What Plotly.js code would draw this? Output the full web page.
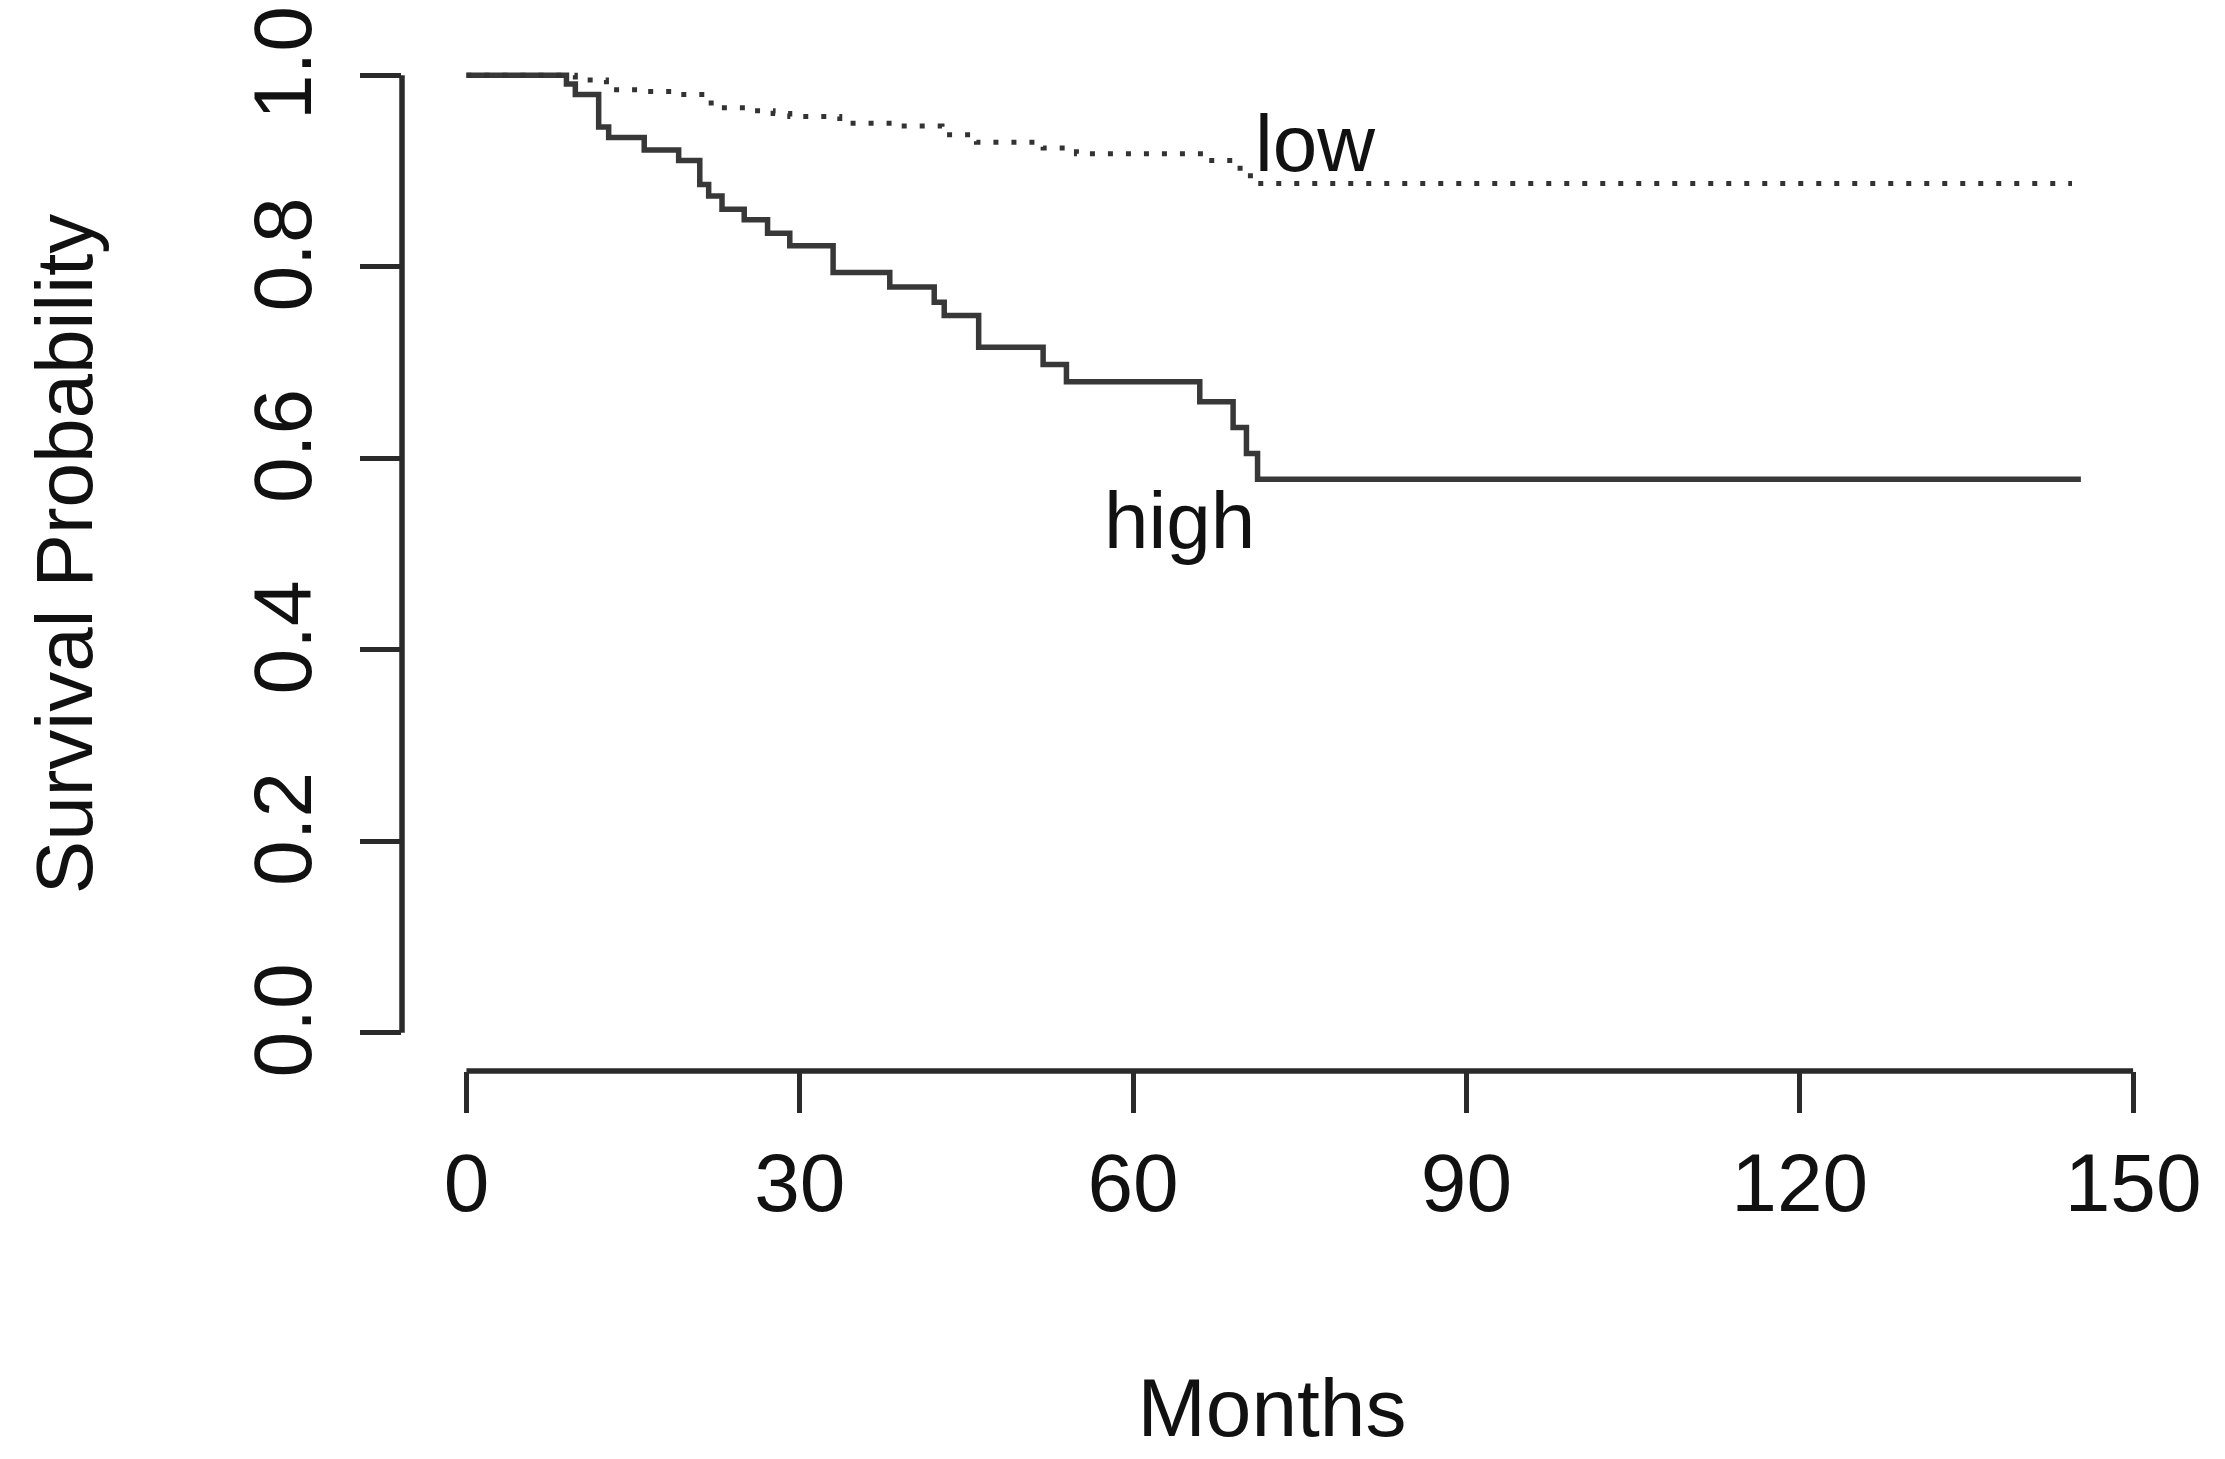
<!DOCTYPE html>
<html>
<head>
<meta charset="utf-8">
<script src="https://cdn.plot.ly/plotly-3.0.1.min.js"></script>
<style>
  html, body { margin: 0; padding: 0; background: #ffffff; }
  #chart { width: 2225px; height: 1459px; }
</style>
</head>
<body>
<div id="chart"></div>
<script>
// ---- data (Kaplan-Meier style step curves) ----
const highTime = [0, 9.0, 9.8, 11.9, 12.8, 16.0, 19.1, 21.0, 21.8, 23.0, 25.0, 27.1, 29.1, 33.0, 38.1, 42.1, 43.0, 46.1, 51.9, 54.0, 66.0, 69.0, 70.2, 71.2, 145.3];
const highSurv = [1.000, 0.991, 0.980, 0.946, 0.935, 0.922, 0.911, 0.886, 0.874, 0.860, 0.849, 0.835, 0.822, 0.794, 0.779, 0.763, 0.749, 0.716, 0.698, 0.680, 0.659, 0.632, 0.605, 0.578, 0.578];

const lowTime = [0, 9.8, 12.6, 15.8, 19.0, 21.7, 22.9, 26.2, 27.6, 29.1, 33.6, 38.4, 42.8, 45.9, 51.9, 54.9, 66.3, 69.2, 70.3, 71.0, 144.5];
const lowSurv = [1.000, 0.995, 0.985, 0.983, 0.980, 0.971, 0.966, 0.963, 0.960, 0.957, 0.950, 0.947, 0.938, 0.930, 0.924, 0.918, 0.911, 0.903, 0.895, 0.887, 0.887];

const xTicks = [0, 30, 60, 90, 120, 150];
const xTickText = ["0", "30", "60", "90", "120", "150"];
const yTicks = [0, 0.2, 0.4, 0.6, 0.8, 1.0];
const yTickText = ["0.0", "0.2", "0.4", "0.6", "0.8", "1.0"];

const groupLabels = ["high", "low"];
const labelX = [64.2, 76.4];
const labelY = [0.535, 0.929];

const FONT = "Liberation Sans, Arial, Helvetica, sans-serif";
const INK = "#2a2a2a";

const traces = [
  {
    x: highTime, y: highSurv, type: "scatter", mode: "lines", name: "high",
    line: { shape: "hv", color: "#383838", width: 5.5 },
    hoverinfo: "skip"
  },
  {
    x: lowTime, y: lowSurv, type: "scatter", mode: "lines", name: "low",
    line: { shape: "hv", color: "#333333", width: 5, dash: "5px,13px" },
    hoverinfo: "skip"
  }
];

const layout = {
  width: 2225, height: 1459,
  paper_bgcolor: "#ffffff", plot_bgcolor: "#ffffff",
  showlegend: false,
  margin: { l: 402, r: 83, t: 37, b: 388, pad: 0 },
  font: { family: FONT, size: 82, color: "#111111" },
  xaxis: {
    range: [-5.8, 150.8],
    tickmode: "array", tickvals: xTicks, ticktext: xTickText,
    ticks: "outside", ticklen: 41, tickwidth: 5, tickcolor: INK,
    ticklabelstandoff: 0,
    showline: false, showgrid: false, zeroline: false,
    tickfont: { family: FONT, size: 82, color: "#111111" },
    title: { text: "Months", font: { family: FONT, size: 82, color: "#111111" }, standoff: 151 },
    automargin: false, fixedrange: true
  },
  yaxis: {
    range: [-0.04, 1.04],
    tickmode: "array", tickvals: yTicks, ticktext: yTickText,
    tickangle: -90,
    ticks: "outside", ticklen: 41, tickwidth: 5, tickcolor: INK,
    ticklabelstandoff: 16,
    showline: false, showgrid: false, zeroline: false,
    tickfont: { family: FONT, size: 82, color: "#111111" },
    title: { text: "Survival Probability", font: { family: FONT, size: 80, color: "#111111" }, standoff: 118 },
    automargin: false, fixedrange: true
  },
  shapes: [
    // R-style axis lines that span only the tick range
    { type: "line", xref: "x", yref: "paper", x0: xTicks[0], x1: xTicks[xTicks.length - 1], y0: 0, y1: 0,
      line: { color: INK, width: 5.5 } },
    { type: "line", xref: "paper", yref: "y", x0: 0, x1: 0, y0: yTicks[0], y1: yTicks[yTicks.length - 1],
      line: { color: INK, width: 5.5 } }
  ],
  annotations: groupLabels.map((t, i) => ({
    text: t, x: labelX[i], y: labelY[i], xref: "x", yref: "y",
    xanchor: "center", yanchor: "middle", showarrow: false,
    font: { family: FONT, size: 80, color: "#111111" }
  }))
};

Plotly.newPlot("chart", traces, layout, { displayModeBar: false, staticPlot: true });
</script>
</body>
</html>
